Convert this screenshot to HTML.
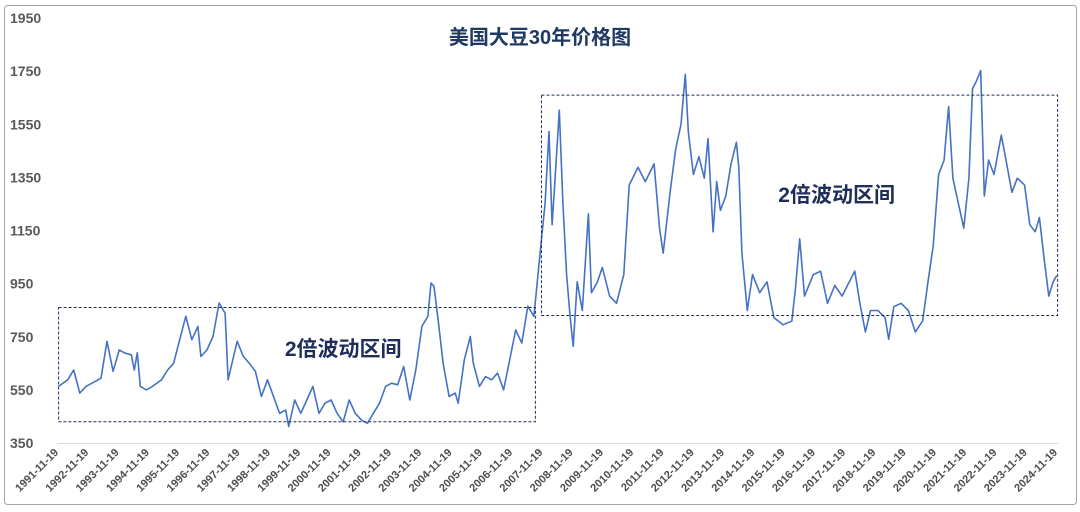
<!DOCTYPE html>
<html><head><meta charset="utf-8">
<style>
html,body{margin:0;padding:0;background:#fff;}
body{width:1080px;height:507px;overflow:hidden;position:relative;font-family:"Liberation Sans","Noto Sans CJK SC",sans-serif;}
</style></head>
<body>
<svg id="chart" width="1080" height="507" viewBox="0 0 1080 507" xmlns="http://www.w3.org/2000/svg">
<rect x="4.5" y="5.5" width="1072" height="499" rx="3" fill="#fff" stroke="#a6a6a6" stroke-width="1"/>
<text x="540" y="44" text-anchor="middle" font-family="Liberation Sans, Noto Sans CJK SC, sans-serif" font-size="20" font-weight="bold" fill="#1f3864">美国大豆30年价格图</text>
<g id="yaxis"></g>
<g id="xaxis"></g>
<line x1="58" y1="443.5" x2="1058" y2="443.5" stroke="#d9d9d9" stroke-width="1"/>
<g id="series"></g>
<g id="boxes"></g>
</svg>
<script>
const yTicks = [350, 550, 750, 950, 1150, 1350, 1550, 1750, 1950];
const xTickYears = [1991,1992,1993,1994,1995,1996,1997,1998,1999,2000,2001,2002,2003,2004,2005,2006,2007,2008,2009,2010,2011,2012,2013,2014,2015,2016,2017,2018,2019,2020,2021,2022,2023,2024];
const years = [1991.9,1992.2,1992.4,1992.6,1992.8,1993.0,1993.3,1993.5,1993.7,1993.9,1994.1,1994.3,1994.4,1994.5,1994.6,1994.8,1995.0,1995.3,1995.5,1995.7,1995.9,1996.1,1996.3,1996.5,1996.6,1996.8,1997.0,1997.2,1997.4,1997.5,1997.6,1997.8,1998.0,1998.2,1998.4,1998.6,1998.8,1999.0,1999.2,1999.4,1999.5,1999.7,1999.9,2000.1,2000.3,2000.5,2000.7,2000.9,2001.1,2001.3,2001.5,2001.7,2001.9,2002.1,2002.3,2002.5,2002.7,2002.9,2003.1,2003.3,2003.5,2003.7,2003.9,2004.1,2004.2,2004.3,2004.45,2004.6,2004.8,2005.0,2005.1,2005.3,2005.5,2005.6,2005.8,2006.0,2006.2,2006.4,2006.6,2006.8,2007.0,2007.2,2007.4,2007.6,2007.85,2007.97,2008.1,2008.2,2008.3,2008.44,2008.56,2008.68,2008.8,2008.9,2009.03,2009.2,2009.4,2009.5,2009.7,2009.86,2010.1,2010.33,2010.57,2010.75,2011.04,2011.28,2011.57,2011.75,2011.87,2012.1,2012.28,2012.46,2012.6,2012.7,2012.87,2013.05,2013.23,2013.35,2013.52,2013.64,2013.76,2013.94,2014.11,2014.29,2014.37,2014.47,2014.65,2014.82,2015.06,2015.3,2015.53,2015.83,2016.12,2016.24,2016.38,2016.54,2016.83,2017.07,2017.3,2017.54,2017.78,2018.02,2018.2,2018.37,2018.55,2018.72,2018.96,2019.2,2019.32,2019.49,2019.73,2019.97,2020.2,2020.44,2020.62,2020.79,2020.97,2021.15,2021.3,2021.44,2021.62,2021.8,2021.97,2022.09,2022.21,2022.36,2022.48,2022.62,2022.8,2023.04,2023.22,2023.39,2023.57,2023.81,2023.98,2024.16,2024.3,2024.46,2024.61,2024.75,2024.87];
const prices = [563,588,625,538,563,575,594,733,620,700,688,682,625,690,563,550,563,588,625,650,739,827,739,789,676,700,751,877,839,588,638,733,676,650,620,525,588,525,462,474,412,512,462,512,563,462,500,512,462,430,512,462,437,424,462,500,563,575,569,638,512,625,789,827,952,940,802,650,525,538,500,663,751,650,563,600,588,613,550,663,776,726,865,827,1118,1253,1523,1172,1347,1603,1253,984,822,714,957,849,1213,916,957,1011,903,876,984,1321,1388,1334,1401,1159,1065,1294,1455,1550,1738,1523,1361,1428,1347,1496,1145,1334,1226,1280,1401,1482,1388,1065,849,984,916,957,822,795,809,930,1119,903,984,997,876,943,903,957,997,876,768,849,849,822,741,863,876,849,768,809,957,1092,1361,1415,1617,1347,1253,1159,1347,1684,1711,1752,1280,1415,1361,1509,1401,1294,1347,1321,1172,1145,1199,1038,903,957,980];
const boxRanges = [[1991.9, 2007.65, 430, 860], [2007.85, 2024.9, 830, 1660]];
const boxLabels = ["2倍波动区间", "2倍波动区间"];
const boxLabelPos = [[2001.3, 704], [2017.6, 1284]];

const NS = "http://www.w3.org/2000/svg";
const X0 = 58, X1 = 1057, T0 = 1991.88, T1 = 2024.88;
function xScale(t){ return X0 + (t - T0) * (X1 - X0) / (T1 - T0); }
function yScale(v){ return 443 - (v - 350) * 0.2656; }
function mk(tag, attrs){ const e = document.createElementNS(NS, tag); for (const k in attrs) e.setAttribute(k, attrs[k]); return e; }

const yaxis = document.getElementById('yaxis');
yTicks.forEach(v => {
  const t = mk('text', {x: 10, y: yScale(v) + 5, 'font-size': 14, 'font-weight': 'bold', fill: '#595959', 'font-family': 'Liberation Sans, sans-serif'});
  
  
  t.textContent = v;
  yaxis.appendChild(t);
});

const xaxis = document.getElementById('xaxis');
xTickYears.forEach(yr => {
  const x = xScale(yr + 0.88) + 1;
  const t = mk('text', {x: x, y: 453, 'font-size': 11, 'font-weight': '600', fill: '#4d4d4d', 'text-anchor': 'end', transform: 'rotate(-45 ' + x + ' 453)', 'font-family': 'Liberation Sans, sans-serif'});
  
  
  t.textContent = yr + '-11-19';
  xaxis.appendChild(t);
});

const series = document.getElementById('series');
const pts = years.map((t, i) => xScale(t).toFixed(1) + ',' + yScale(prices[i]).toFixed(1)).join(' ');
const line = mk('polyline', {points: pts, fill: 'none', stroke: '#4472c4', 'stroke-width': 1.6, 'stroke-linejoin': 'round'});


series.appendChild(line);

const boxes = document.getElementById('boxes');
boxRanges.forEach((b, i) => {
  const x1 = xScale(b[0]), x2 = xScale(b[1]), y1 = yScale(b[3]), y2 = yScale(b[2]);
  const r = mk('rect', {x: x1, y: y1, width: x2 - x1, height: y2 - y1, fill: 'none', stroke: '#1f2d5a', 'stroke-width': 1, 'stroke-dasharray': '3,2'});
  
  
  boxes.appendChild(r);
  const t = mk('text', {x: xScale(boxLabelPos[i][0]), y: yScale(boxLabelPos[i][1]) + 7, 'font-size': 21, 'font-weight': 'bold', fill: '#1f2d5a', 'text-anchor': 'middle', 'font-family': 'Liberation Sans, Noto Sans CJK SC, sans-serif'});
  
  
  t.textContent = boxLabels[i];
  boxes.appendChild(t);
});
</script>
</body></html>
